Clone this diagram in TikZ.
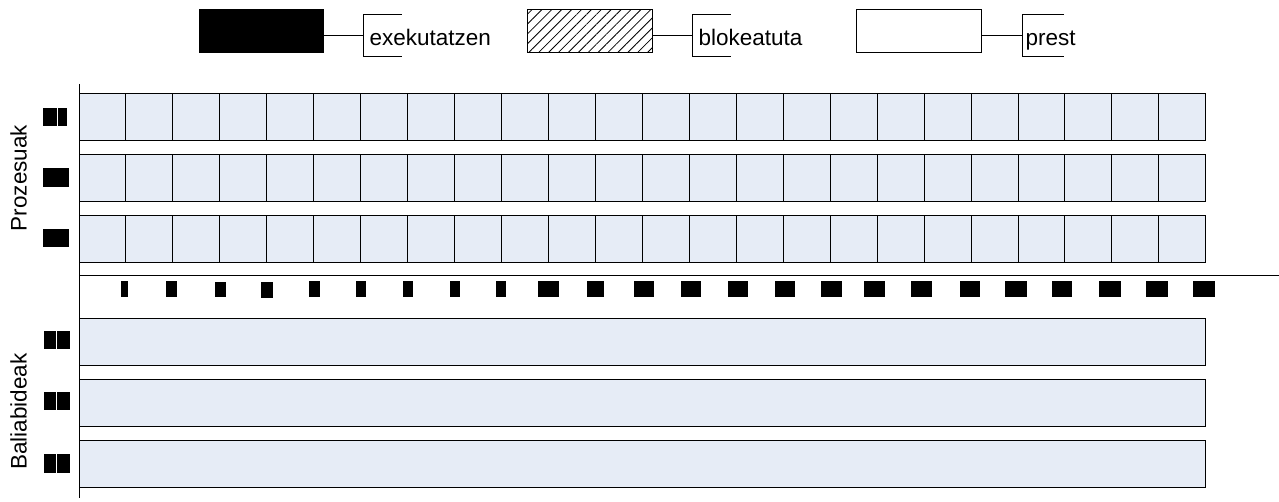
\documentclass[tikz,border=0pt]{standalone}
\usepackage{fontspec}
\setmainfont{Liberation Sans}
\usetikzlibrary{patterns.meta}
\definecolor{cellfill}{RGB}{230,236,246}
\begin{document}
\begin{tikzpicture}[x=1pt,y=-1pt,line width=1pt,
  legbox/.style={draw=black, line width=1pt, minimum width=124.5pt, minimum height=43pt, inner sep=0pt, outer sep=0pt, anchor=north west},
  brk/.style={minimum width=38.4pt, minimum height=41.7pt, inner sep=0pt, outer sep=0pt, anchor=north west},
  legtext/.style={font=\fontsize{22.5}{26}\selectfont, inner sep=0pt, anchor=base west},
  sidetext/.style={font=\fontsize{22.5}{26}\selectfont, inner sep=0pt, anchor=base, rotate=90},
  cell/.style={draw=black, fill=cellfill, line width=1pt},
  tickbox/.style={fill=black}]
\useasboundingbox (0,0) rectangle (1279,502);

% legend
\node[legbox, fill=black] (run) at (199.3,9.3) {};
\node[legbox, pattern={Lines[angle=45,distance=7pt,line width=0.8pt]}] (blk) at (527.7,9.3) {};
\node[legbox, minimum height=42.3pt] (rdy) at (856.7,10) {};
\node[brk] (br1) at (363.3,15) {};
\node[brk] (br2) at (692.3,15) {};
\node[brk, minimum width=41.3pt] (br3) at (1022.7,15) {};
\foreach \b in {br1,br2,br3}
  \draw (\b.north east) -- (\b.north west) -- (\b.south west) -- (\b.south east);
\draw (run.east |- br1.west) -- (br1.west);
\draw (blk.east |- br2.west) -- (br2.west);
\draw (rdy.east |- br3.west) -- (br3.west);
\node[legtext] (t1) at (369,45.3) {exekutatzen};
\node[legtext] (t2) at (698,45.3) {blokeatuta};
\node[legtext] (t3) at (1025,45.3) {prest};

% side labels
\node[sidetext] (lp) at (26.7,178) {Prozesuak};
\node[sidetext] (lb) at (26.7,411.5) {Baliabideak};

% process rows
\foreach \y in {93.5,154.5,215.5}
  \foreach \i in {0,...,23}
    \draw[cell] ({79+\i*46.95},\y) rectangle ++(46.95,47);

% resource rows
\foreach \y in {318.3,379.3,440.3}
  \draw[cell] (79,\y) rectangle (1205.7,\y+47);

% axes
\coordinate (axtop) at (79,84);
\coordinate (axbot) at (79,498);
\coordinate (tlL) at (79,276);
\coordinate (tlR) at (1279,276);
\draw (axtop) -- (axbot);
\draw (tlL) -- (tlR);

% left marks
\fill (43.3,107.7) rectangle (56.7,125.7);
\fill (58.3,107.7) rectangle (66.7,125.7);
\fill (43.3,168.3) rectangle (69.3,186.7);
\fill (43.3,229) rectangle (69.3,246.7);
\foreach \y in {331,391.7,454}{
  \fill (44,\y) rectangle (55.7,\y+18.5);
  \fill (57.3,\y) rectangle (69.5,\y+18.5);
}

% timeline marks
\foreach \a/\b in {121/128.3,166/177,309/320,356/366,403/413,450/460,496/506,538/559,587/604,634/654,681/701,728/748,775/795,821/842,864/885,911/932,960/980,1005/1027,1052/1072,1099/1121,1146/1168,1193/1215}
  \fill[tickbox] (\a,281) rectangle (\b,297);
\fill[tickbox] (215,282) rectangle (225.7,296.7);
\fill[tickbox] (261,282) rectangle (273,298);
\end{tikzpicture}
\end{document}
